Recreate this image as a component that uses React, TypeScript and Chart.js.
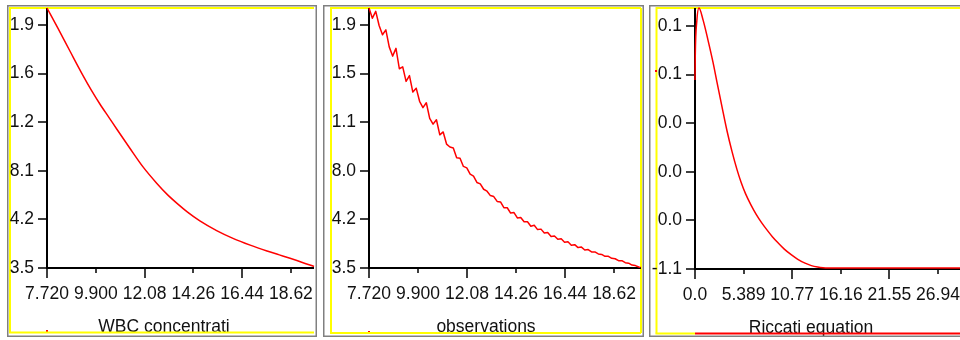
import React, { useEffect, useRef } from "react";
import { Chart, registerables } from "chart.js";

Chart.register(...registerables);

// ---------- WBC concentration (model curve) ----------
const wbcX = [7.72, 8.2, 8.75, 9.33, 9.7, 10.09, 10.5, 10.85, 11.4, 12.01, 12.63, 13.1, 13.53, 14.0, 14.55, 15.3, 16.03, 16.8, 17.55, 18.1, 18.58, 19.1, 19.65];
const wbcY = [5.35, 4.94, 4.46, 3.96, 3.66, 3.37, 3.09, 2.85, 2.48, 2.08, 1.74, 1.51, 1.33, 1.15, 0.97, 0.77, 0.61, 0.47, 0.35, 0.27, 0.2, 0.12, 0.03];
const wbcXTicks = [7.72, 9.9, 12.08, 14.26, 16.44, 18.62];
const wbcXLabels = ["7.720", "9.900", "12.08", "14.26", "16.44", "18.62"];
const wbcYLabels = ["3.5", "4.2", "8.1", "1.2", "1.6", "1.9"];

// ---------- observations (noisy measurements) ----------
const obsX = [
  7.72, 7.87, 8.02, 8.17, 8.32, 8.47, 8.62, 8.77, 8.92, 9.07,
  9.22, 9.37, 9.52, 9.67, 9.82, 9.97, 10.12, 10.27, 10.42, 10.57,
  10.72, 10.87, 11.02, 11.17, 11.32, 11.47, 11.62, 11.77, 11.92, 12.07,
  12.22, 12.37, 12.52, 12.67, 12.82, 12.97, 13.12, 13.27, 13.42, 13.57,
  13.72, 13.87, 14.02, 14.17, 14.32, 14.47, 14.62, 14.77, 14.92, 15.07,
  15.22, 15.37, 15.52, 15.67, 15.82, 15.97, 16.12, 16.27, 16.42, 16.57,
  16.72, 16.87, 17.02, 17.17, 17.32, 17.47, 17.62, 17.77, 17.92, 18.07,
  18.22, 18.37, 18.52, 18.67, 18.82, 18.97, 19.12, 19.27, 19.42, 19.57,
  19.72, 19.8,
];
const obsY = [
  5.35, 5.14, 5.28, 4.99, 4.8, 4.9, 4.55, 4.36, 4.52, 4.1,
  4.14, 3.84, 3.96, 3.62, 3.7, 3.43, 3.3, 3.4, 3.08, 2.96,
  3.05, 2.74, 2.8, 2.55, 2.49, 2.47, 2.27, 2.26, 2.09, 2.06,
  1.93, 1.89, 1.76, 1.73, 1.62, 1.58, 1.49, 1.47, 1.37, 1.36,
  1.24, 1.24, 1.13, 1.14, 1.03, 1.04, 0.95, 0.95, 0.86, 0.88,
  0.79, 0.8, 0.72, 0.73, 0.65, 0.66, 0.59, 0.6, 0.53, 0.54,
  0.47, 0.48, 0.42, 0.43, 0.37, 0.38, 0.33, 0.33, 0.29, 0.28,
  0.24, 0.24, 0.2, 0.19, 0.15, 0.15, 0.11, 0.1, 0.06, 0.05,
  0.02, 0.01,
];
const obsXTicks = [7.72, 9.9, 12.08, 14.26, 16.44, 18.62];
const obsXLabels = ["7.720", "9.900", "12.08", "14.26", "16.44", "18.62"];
const obsYLabels = ["3.5", "4.2", "8.0", "1.1", "1.5", "1.9"];

// ---------- Riccati equation solution ----------
const ricX = [0, 0.03, 0.2, 0.44, 0.9, 1.44, 2.0, 2.43, 3.0, 3.54, 4.1, 4.65, 5.1, 5.6, 6.2, 6.8, 7.4, 8.0, 8.6, 9.2, 9.9, 10.7, 11.4, 12.2, 12.9, 13.6, 14.2, 14.7, 16, 20, 25, 30.2];
const ricY = [3.89, 4.4, 5.1, 5.37, 5.12, 4.71, 4.25, 3.85, 3.33, 2.85, 2.42, 2.05, 1.79, 1.55, 1.32, 1.12, 0.95, 0.8, 0.66, 0.54, 0.41, 0.29, 0.2, 0.12, 0.07, 0.04, 0.025, 0.02, 0.02, 0.02, 0.02, 0.02];
const ricXTicks = [0, 5.389, 10.778, 16.167, 21.556, 26.945];
const ricXLabels = ["0.0", "5.389", "10.77", "16.16", "21.55", "26.94"];
const ricYLabels = ["-1.1", "0.0", "0.0", "0.0", "0.1", "0.1"];

// y gridline positions (one unit per labelled step)
const yTickSteps = [0, 1, 2, 3, 4, 5];

const FONT = '"Liberation Sans", Arial, sans-serif';
const FONT_SIZE = 17.5;
const TEXT = "#111";

type Mark = [number, number, number, number];

type PanelSpec = {
  left: number;
  top: number;
  width: number;
  height: number;
  plotLeft: number;
  plotTop: number;
  plotRight: number;
  plotBottom: number;
  xs: number[];
  ys: number[];
  xMin: number;
  xMax: number;
  yMax: number;
  xTicks: number[];
  xLabels: string[];
  yLabels: string[];
  title: string;
  titleX: number;
  smooth: boolean;
  yellowLeft: number;
  yellowEnd: number;
  yellowRight: number | null;
  bottomY: number;
  bottomRed: boolean;
  marks: Mark[];
};

const panels: PanelSpec[] = [
  {
    left: 7, top: 5, width: 310, height: 332,
    plotLeft: 40, plotTop: 3, plotRight: 307, plotBottom: 263,
    xs: wbcX, ys: wbcY, xMin: 7.72, xMax: 19.65, yMax: 5.35,
    xTicks: wbcXTicks, xLabels: wbcXLabels, yLabels: wbcYLabels,
    title: "WBC concentrati", titleX: 157, smooth: true,
    yellowLeft: 3, yellowEnd: 307, yellowRight: null, bottomY: 327.5, bottomRed: false,
    marks: [[39, 325, 2, 3]],
  },
  {
    left: 323, top: 5, width: 321, height: 332,
    plotLeft: 46, plotTop: 3, plotRight: 318, plotBottom: 263,
    xs: obsX, ys: obsY, xMin: 7.72, xMax: 19.82, yMax: 5.35,
    xTicks: obsXTicks, xLabels: obsXLabels, yLabels: obsYLabels,
    title: "observations", titleX: 163, smooth: false,
    yellowLeft: 8, yellowEnd: 318, yellowRight: 318, bottomY: 328, bottomRed: false,
    marks: [[45, 326, 2, 3]],
  },
  {
    left: 649, top: 5, width: 322, height: 332,
    plotLeft: 46, plotTop: 3, plotRight: 318, plotBottom: 264,
    xs: ricX, ys: ricY, xMin: 0, xMax: 30.16, yMax: 5.37,
    xTicks: ricXTicks, xLabels: ricXLabels, yLabels: ricYLabels,
    title: "Riccati equation", titleX: 162, smooth: true,
    yellowLeft: 7.5, yellowEnd: 322, yellowRight: null, bottomY: 328.5, bottomRed: true,
    marks: [[6, 65, 2, 2]],
  },
];

function framePlugin(p: PanelSpec) {
  return {
    id: "panelFrame",
    beforeDraw(chart: any) {
      const ctx = chart.ctx as CanvasRenderingContext2D;
      ctx.save();
      ctx.fillStyle = "#ffffff";
      ctx.fillRect(0, 0, p.width, p.height);
      // yellow frame (top, left, optional right)
      ctx.strokeStyle = "#ffff00";
      ctx.lineWidth = 2;
      ctx.beginPath();
      ctx.moveTo(p.yellowLeft - 1, p.plotTop);
      ctx.lineTo(p.yellowEnd, p.plotTop);
      ctx.moveTo(p.yellowLeft, p.plotTop);
      ctx.lineTo(p.yellowLeft, p.bottomY);
      if (p.yellowRight !== null) {
        ctx.moveTo(p.yellowRight, p.plotTop);
        ctx.lineTo(p.yellowRight, p.bottomY);
      }
      ctx.stroke();
      // small red markers
      ctx.fillStyle = "#ff0000";
      p.marks.forEach(([x, y, w, h]) => ctx.fillRect(x, y, w, h));
      ctx.restore();
    },
    beforeDatasetsDraw(chart: any) {
      const ctx = chart.ctx as CanvasRenderingContext2D;
      const a = chart.chartArea;
      const xs = chart.scales.x;
      const ys = chart.scales.y;
      ctx.save();
      ctx.strokeStyle = "#000";
      ctx.lineWidth = 2;
      ctx.beginPath();
      ctx.moveTo(a.left, a.top);
      ctx.lineTo(a.left, a.bottom);
      ctx.moveTo(a.left - 1, a.bottom);
      ctx.lineTo(a.right, a.bottom);
      ctx.stroke();
      ctx.lineWidth = 1.5;
      ctx.beginPath();
      yTickSteps.forEach((v) => {
        const y = Math.round(ys.getPixelForValue(v));
        ctx.moveTo(a.left - 9, y);
        ctx.lineTo(a.left, y);
      });
      p.xTicks.forEach((v, i) => {
        const x = Math.round(xs.getPixelForValue(v));
        ctx.moveTo(x, a.bottom);
        ctx.lineTo(x, a.bottom + (i % 2 === 0 ? 10 : 5));
      });
      ctx.stroke();
      ctx.restore();
    },
    afterDraw(chart: any) {
      const ctx = chart.ctx as CanvasRenderingContext2D;
      ctx.save();
      ctx.fillStyle = TEXT;
      ctx.font = `${FONT_SIZE}px ${FONT}`;
      ctx.textAlign = "center";
      ctx.textBaseline = "alphabetic";
      ctx.fillText(p.title, p.titleX, p.bottomY - 1);
      // bottom frame line, over the title
      ctx.lineWidth = 2;
      if (p.bottomRed) {
        ctx.strokeStyle = "#ffff00";
        ctx.beginPath();
        ctx.moveTo(p.yellowLeft - 1, p.bottomY);
        ctx.lineTo(p.plotLeft, p.bottomY);
        ctx.stroke();
        ctx.strokeStyle = "#ff0000";
        ctx.beginPath();
        ctx.moveTo(p.plotLeft, p.bottomY);
        ctx.lineTo(p.width, p.bottomY);
        ctx.stroke();
      } else {
        ctx.strokeStyle = "#ffff00";
        ctx.beginPath();
        ctx.moveTo(p.yellowLeft - 1, p.bottomY);
        ctx.lineTo(p.yellowEnd, p.bottomY);
        ctx.stroke();
      }
      // sunken grey panel border
      ctx.strokeStyle = "#808080";
      ctx.lineWidth = 1.5;
      ctx.strokeRect(0.75, 0.75, p.width - 1.5, p.height - 1.5);
      ctx.restore();
    },
  };
}

function buildConfig(p: PanelSpec): any {
  const tickFont = { family: FONT, size: FONT_SIZE };
  return {
    type: "line",
    data: {
      datasets: [
        {
          data: p.xs.map((x, i) => ({ x, y: p.ys[i] })),
          borderColor: "#ff0000",
          borderWidth: 1.5,
          pointRadius: 0,
          fill: false,
          tension: p.smooth ? 0.4 : 0,
          cubicInterpolationMode: p.smooth ? "monotone" : "default",
          borderJoinStyle: "round",
          clip: 8,
        },
      ],
    },
    options: {
      animation: false,
      responsive: false,
      maintainAspectRatio: false,
      events: [],
      layout: {
        padding: { left: 0, top: p.plotTop, right: p.width - p.plotRight, bottom: 0 },
      },
      plugins: {
        legend: { display: false },
        tooltip: { enabled: false },
        title: { display: false },
      },
      scales: {
        x: {
          type: "linear",
          position: "bottom",
          min: p.xMin,
          max: p.xMax,
          afterBuildTicks: (s: any) => {
            s.ticks = p.xTicks.map((v) => ({ value: v }));
          },
          afterFit: (s: any) => {
            s.height = p.height - p.plotBottom;
            s.paddingLeft = 0;
            s.paddingRight = 0;
          },
          grid: { display: true, drawOnChartArea: false, drawTicks: true, tickLength: 10, color: "rgba(0,0,0,0)" },
          border: { display: false },
          ticks: {
            autoSkip: false,
            maxRotation: 0,
            minRotation: 0,
            padding: 6,
            color: TEXT,
            font: tickFont,
            callback: (_v: any, i: number) => p.xLabels[i],
          },
        },
        y: {
          type: "linear",
          position: "left",
          min: 0,
          max: p.yMax,
          afterBuildTicks: (s: any) => {
            s.ticks = yTickSteps.map((v) => ({ value: v }));
          },
          afterFit: (s: any) => {
            s.width = p.plotLeft;
            s.paddingTop = 0;
            s.paddingBottom = 0;
          },
          grid: { display: true, drawOnChartArea: false, drawTicks: true, tickLength: 9, color: "rgba(0,0,0,0)" },
          border: { display: false },
          ticks: {
            autoSkip: false,
            padding: 4,
            color: TEXT,
            font: tickFont,
            callback: (_v: any, i: number) => p.yLabels[i],
          },
        },
      },
    },
    plugins: [framePlugin(p)],
  };
}

function Panel({ spec }: { spec: PanelSpec }) {
  const ref = useRef<HTMLCanvasElement | null>(null);
  useEffect(() => {
    const canvas = ref.current;
    if (!canvas) return;
    const chart = new Chart(canvas, buildConfig(spec));
    return () => chart.destroy();
  }, [spec]);
  return (
    <canvas
      ref={ref}
      width={spec.width}
      height={spec.height}
      style={{ position: "absolute", left: spec.left, top: spec.top, width: spec.width, height: spec.height }}
    />
  );
}

export default function App() {
  return (
    <div
      style={{
        position: "fixed",
        left: 0,
        top: 0,
        width: 960,
        height: 340,
        overflow: "hidden",
        background: "#ffffff",
      }}
    >
      {panels.map((p, i) => (
        <Panel key={i} spec={p} />
      ))}
    </div>
  );
}
